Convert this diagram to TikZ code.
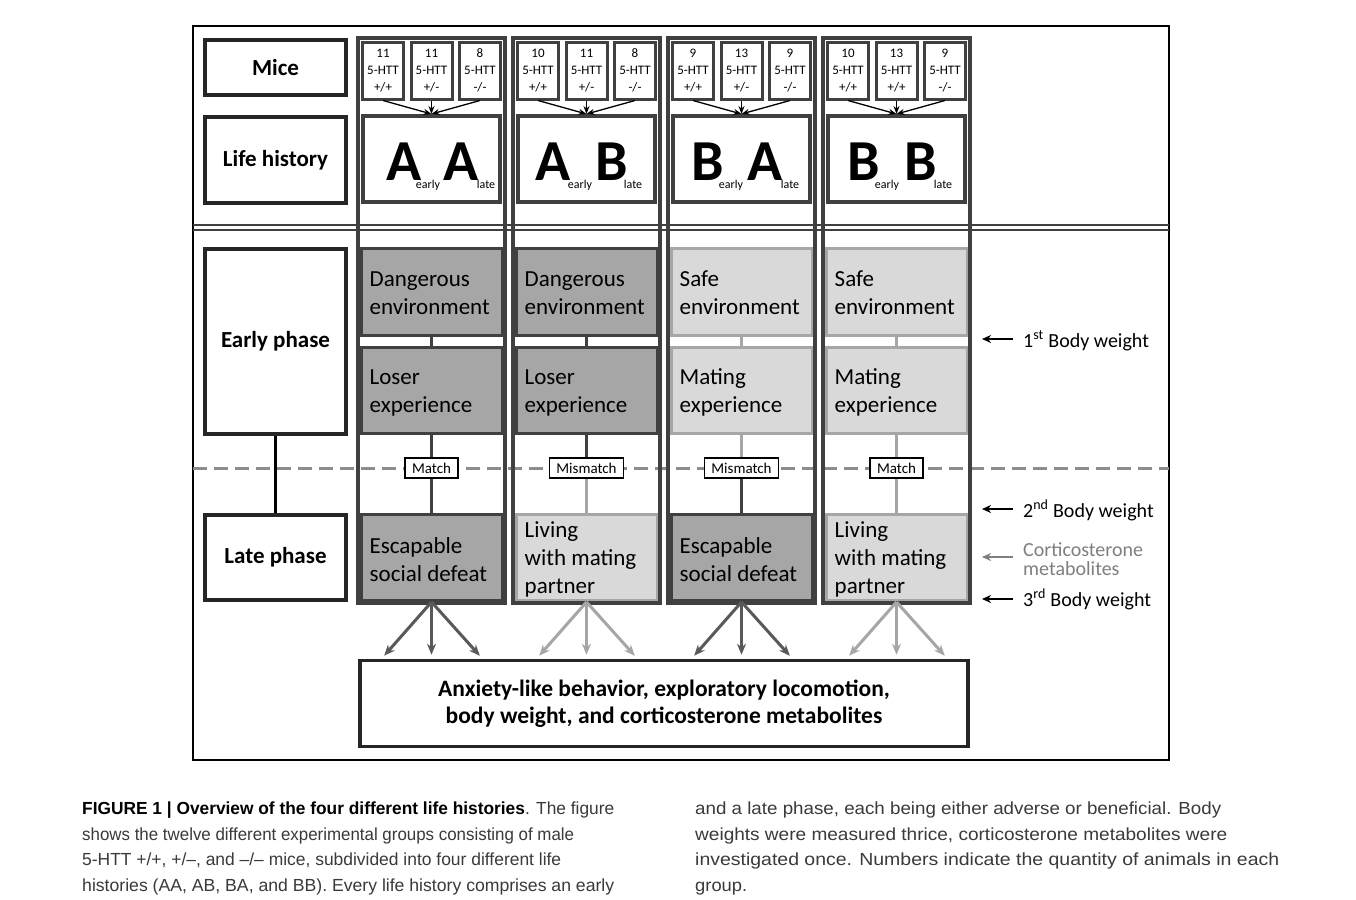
\documentclass[tikz,border=0pt]{standalone}
\usepackage{graphicx}
\usepackage{fontspec}
\setmainfont{Carlito}
\newfontfamily\capfont{Liberation Sans}
\usetikzlibrary{arrows.meta,calc}
\definecolor{dkfill}{HTML}{A6A6A6}
\definecolor{dkline}{HTML}{404040}
\definecolor{ltfill}{HTML}{D9D9D9}
\definecolor{ltline}{HTML}{A6A6A6}
\definecolor{dkarrow}{HTML}{595959}
\definecolor{boxline}{HTML}{262626}
\definecolor{dashgray}{HTML}{8C8C8C}
\definecolor{captxt}{HTML}{3A3A3A}
\definecolor{cortgray}{HTML}{7F7F7F}
\newcommand\fsz[2]{\fontsize{#1}{#2}\selectfont}
\newcommand\fitline[2]{\resizebox{#1}{\height}{#2}}
\tikzset{
 lbox/.style={draw=boxline, line width=4pt, minimum width=141pt, inner sep=0pt, font=\fsz{23}{27}\bfseries},
 mbox/.style={draw=dkline, line width=3pt, fill=white, minimum width=41pt, minimum height=56pt, inner sep=0pt, align=center, font=\fsz{13}{17}},
 lhbox/.style={draw=dkline, line width=4pt, minimum width=137pt, minimum height=86pt, inner sep=0pt},
 biglet/.style={inner sep=0pt, anchor=base, font=\fsz{58}{58}\bfseries},
 sublet/.style={inner sep=0pt, anchor=base, text height=7pt, font=\fsz{12}{12}},
 phbox/.style={line width=3pt, minimum width=141pt, inner sep=0pt},
 dkbox/.style={fill=dkfill, draw=dkline},
 ltbox/.style={fill=ltfill, draw=ltline},
 dkcon/.style={draw=dkline, line width=3pt},
 ltcon/.style={draw=ltline, line width=3pt},
 phtext/.style={anchor=west, align=left, inner sep=0pt, font=\fsz{23}{28}},
 mlabel/.style={draw=black, fill=white, line width=1.5pt, minimum height=20pt, inner xsep=7pt, inner ysep=0pt, font=\fsz{15}{15}},
 colframe/.style={draw=dkline, line width=4pt, minimum width=147pt, minimum height=565pt, inner sep=0pt},
 marrow/.style={draw=black, line width=1.3pt, -{Stealth[length=8pt,width=6pt]}},
 dkout/.style={draw=dkarrow, line width=3pt, -{Stealth[length=11pt,width=9pt]}, shorten >=4pt},
 ltout/.style={draw=ltline, line width=3pt, -{Stealth[length=11pt,width=9pt]}, shorten >=4pt},
 rlab/.style={anchor=base west, inner sep=0pt, font=\fsz{20}{19}},
 rarrow/.style={line width=2pt, -{Stealth[length=9pt,width=8pt]}},
 capline/.style={anchor=base west, inner sep=0pt, font=\capfont\fsz{17.5}{20}, text=captxt},
}
% mice boxes + life history box of one column
\newcommand\mousecol[6]{%
 \node[mbox] (m#1a) at (#2+25,71) {\strut#3\\5-HTT\\+/+\strut};
 \node[mbox] (m#1b) at (#2+73.5,71) {\strut#4\\5-HTT\\#6\strut};
 \node[mbox] (m#1c) at (#2+122,71) {\strut#5\\5-HTT\\-/-\strut};
 \node[lhbox] (lh#1) at (#2+73.5,159) {};
 \draw[marrow] (m#1a.south) -- (lh#1.north);
 \draw[marrow] (m#1b.south) -- (lh#1.north);
 \draw[marrow] (m#1c.south) -- (lh#1.north);
}
% life history letters (centres)
\newcommand\lhtext[8]{%
 \node[biglet] (la#1) at (#2+#4,180) {#3};
 \node[sublet] (ea#1) at (#2+#5,188) {early};
 \node[biglet] (lb#1) at (#2+#7,180) {#6};
 \node[sublet] (eb#1) at (#2+#8,188) {late};
}
% phases of one column
\newcommand\phasecol[9]{%
 \node[phbox,#3box,minimum height=87pt] (env#1) at (#2+73.5,292) {};
 \node[phtext] (envt#1) at ([xshift=10pt,yshift=-1pt]env#1.west) {#4};
 \node[phbox,#5box,minimum height=86pt] (exp#1) at (#2+73.5,390.5) {};
 \node[phtext] (expt#1) at ([xshift=10pt,yshift=-2pt]exp#1.west) {#6};
 \node[mlabel] (mt#1) at (#2+73.5,468) {#7};
 \node[phbox,#8box,minimum height=86pt] (late#1) at (#2+73.5,557.5) {};
 \node[phtext] (latet#1) at ([xshift=10pt,yshift=-2pt]late#1.west) {#9};
 \draw[#3con] (env#1.south) -- (exp#1.north);
 \draw[#5con] (exp#1.south) -- (mt#1.north);
 \draw[#8con] (mt#1.south) -- (late#1.north);
 \node[colframe] (col#1) at (#2+73.5,320.5) {};
 \draw[#8out] (late#1.south) -- ([xshift=-50pt]late#1.south |- out.north);
 \draw[#8out] (late#1.south) -- (late#1.south |- out.north);
 \draw[#8out] (late#1.south) -- ([xshift=51pt]late#1.south |- out.north);
}
\begin{document}
\begin{tikzpicture}[x=1pt,y=-1pt]
\useasboundingbox (0,0) rectangle (1356,899);
\fill[white] (0,0) rectangle (1356,899);
\draw[line width=1.5pt] (193,26) rectangle (1169,760);
\draw[dkline, line width=2pt] (193,225) -- (1169,225) (193,230) -- (1169,230);
\draw[dashgray, line width=3pt, dash pattern=on 14pt off 7pt] (193,468) -- (1169,468);

% left labels
\node[lbox, minimum height=55pt] (mice) at (275.5,67.5) {Mice};
\node[lbox, minimum height=86pt] (lifehist) at (275.5,160) {Life history};
\node[lbox, minimum height=185pt] (early) at (275.5,341.5) {Early phase};
\node[lbox, minimum height=85pt] (late) at (275.5,557.5) {Late phase};
\draw[black, line width=3pt] (early.south) -- (late.north);

% output box
\node[draw=boxline, line width=3.5pt, minimum width=608pt, minimum height=86pt, align=center, inner sep=0pt, font=\fsz{23.5}{27}\bfseries] (out) at (664,703.5)
 {Anxiety-like behavior, exploratory locomotion,\\body weight, and corticosterone metabolites};

% columns
\mousecol{1}{358}{11}{11}{8}{+/-}
\mousecol{2}{513}{10}{11}{8}{+/-}
\mousecol{3}{668}{9}{13}{9}{+/-}
\mousecol{4}{823}{10}{13}{9}{+/+}
\lhtext{1}{358}{A}{46}{70}{A}{103}{128}
\lhtext{2}{513}{A}{40}{67}{B}{99}{120}
\lhtext{3}{668}{B}{40}{63}{A}{97}{122}
\lhtext{4}{823}{B}{41}{64}{B}{98}{120}
\phasecol{1}{358}{dk}{Dangerous\\environment}{dk}{Loser\\experience}{Match}{dk}{Escapable\\social defeat}
\phasecol{2}{513}{dk}{Dangerous\\environment}{dk}{Loser\\experience}{Mismatch}{lt}{Living\\with mating\\partner}
\phasecol{3}{668}{lt}{Safe\\environment}{lt}{Mating\\experience}{Mismatch}{dk}{Escapable\\social defeat}
\phasecol{4}{823}{lt}{Safe\\environment}{lt}{Mating\\experience}{Match}{lt}{Living\\with mating\\partner}

% right labels
\node[rlab] (bw1) at (1023,347) {1\textsuperscript{st} Body weight};
\coordinate (bw1t) at (982,339);
\draw[rarrow] ([xshift=-10pt,yshift=8pt]bw1.base west) -- (bw1t);
\node[rlab] (bw2) at (1023,517) {2\textsuperscript{nd} Body weight};
\coordinate (bw2t) at (982,509);
\draw[rarrow] ([xshift=-10pt,yshift=8pt]bw2.base west) -- (bw2t);
\node[anchor=west, align=left, inner sep=0pt, font=\fsz{20}{18.5}, text=cortgray] (cort) at (1023,559) {Corticosterone\\metabolites};
\coordinate (cortt) at (982,557);
\draw[rarrow, cortgray] ([xshift=-10pt,yshift=2pt]cort.west) -- (cortt);
\node[rlab] (bw3) at (1023,606) {3\textsuperscript{rd} Body weight};
\coordinate (bw3t) at (982,599);
\draw[rarrow] ([xshift=-10pt,yshift=7pt]bw3.base west) -- (bw3t);

% caption
\node[capline] (c1) at (82,814) {\fitline{532pt}{\textcolor{black}{\bfseries FIGURE 1 | Overview of the four different life histories}. The figure}};
\node[capline] (c2) at (82,840) {\fitline{492pt}{shows the twelve different experimental groups consisting of male}};
\node[capline] (c3) at (82,865) {\fitline{479pt}{5-HTT +/+, +/–, and –/– mice, subdivided into four different life}};
\node[capline] (c4) at (82,891) {\fitline{532pt}{histories (AA, AB, BA, and BB). Every life history comprises an early}};
\node[capline] (r1) at (695,814) {\fitline{526pt}{and a late phase, each being either adverse or beneficial. Body}};
\node[capline] (r2) at (695,840) {\fitline{532pt}{weights were measured thrice, corticosterone metabolites were}};
\node[capline] (r3) at (695,865) {\fitline{584pt}{investigated once. Numbers indicate the quantity of animals in each}};
\node[capline] (r4) at (695,891) {\fitline{52pt}{group.}};
\end{tikzpicture}
\end{document}
